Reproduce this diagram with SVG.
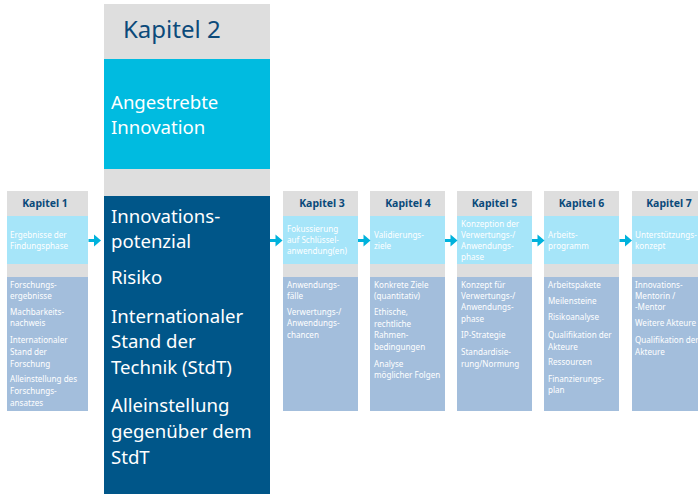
<svg xmlns="http://www.w3.org/2000/svg" width="698" height="494" viewBox="0 0 698 494">
<style>
text{font-family:"Noto Sans","Open Sans","DejaVu Sans",sans-serif}
.hd{fill:#dedede}
.cy{fill:#a6e5f9}
.bl{fill:#a3bedc}
.kh{font-size:10.5px;font-weight:700;fill:#0b4a7a;text-anchor:middle}
.t{font-size:8.1px;fill:#ffffff}
.big{font-size:18.6px;fill:#ffffff}
.arr{fill:#00b2dc}
</style>
<defs>
<g id="arrow">
<rect x="0" y="-1.5" width="6" height="3"/>
<polygon points="5.5,-6 12.5,0 5.5,6"/>
</g>
</defs>
<rect width="698" height="494" fill="#ffffff"/>

<g id="kapitel1">
<rect class="hd" x="7" y="191" width="81" height="25"/>
<rect class="cy" x="7" y="216" width="81" height="48"/>
<rect class="hd" x="7" y="264" width="81" height="13"/>
<rect class="bl" x="7" y="277" width="81" height="134"/>
<text class="kh" x="45" y="207">Kapitel 1</text>
<text class="t" x="10" y="238">Ergebnisse der</text>
<text class="t" x="10" y="249">Findungsphase</text>
<text class="t" x="10" y="288">Forschungs-</text>
<text class="t" x="10" y="299">ergebnisse</text>
<text class="t" x="10" y="315">Machbarkeits-</text>
<text class="t" x="10" y="326">nachweis</text>
<text class="t" x="10" y="343">Internationaler</text>
<text class="t" x="10" y="355">Stand der</text>
<text class="t" x="10" y="367">Forschung</text>
<text class="t" x="10" y="382">Alleinstellung des</text>
<text class="t" x="10" y="394">Forschungs-</text>
<text class="t" x="10" y="406">ansatzes</text>
</g>

<g id="kapitel2">
<rect class="hd" x="104" y="4" width="166" height="55"/>
<rect fill="#00bbe0" x="104" y="59" width="166" height="110"/>
<rect class="hd" x="104" y="169" width="166" height="27"/>
<rect fill="#005689" x="104" y="196" width="166" height="298"/>
<text x="123" y="38" font-size="24" fill="#0b4a7a">Kapitel 2</text>
<text class="big" x="111" y="109">Angestrebte</text>
<text class="big" x="111" y="134">Innovation</text>
<text class="big" x="111" y="223">Innovations-</text>
<text class="big" x="111" y="248">potenzial</text>
<text class="big" x="111" y="284">Risiko</text>
<text class="big" x="111" y="323">Internationaler</text>
<text class="big" x="111" y="348">Stand der</text>
<text class="big" x="111" y="374">Technik (StdT)</text>
<text class="big" x="111" y="412">Alleinstellung</text>
<text class="big" x="111" y="438">gegenüber dem</text>
<text class="big" x="111" y="464">StdT</text>
</g>

<g id="kapitel3">
<rect class="hd" x="283" y="191" width="75" height="25"/>
<rect class="cy" x="283" y="216" width="75" height="48"/>
<rect class="hd" x="283" y="264" width="75" height="13"/>
<rect class="bl" x="283" y="277" width="75" height="134"/>
<text class="kh" x="322" y="207">Kapitel 3</text>
<text class="t" x="287" y="232">Fokussierung</text>
<text class="t" x="287" y="243">auf Schlüssel-</text>
<text class="t" x="287" y="254">anwendung(en)</text>
<text class="t" x="287" y="288">Anwendungs-</text>
<text class="t" x="287" y="299">fälle</text>
<text class="t" x="287" y="315">Verwertungs-/</text>
<text class="t" x="287" y="326">Anwendungs-</text>
<text class="t" x="287" y="338">chancen</text>
</g>

<g id="kapitel4">
<rect class="hd" x="370" y="191" width="75" height="25"/>
<rect class="cy" x="370" y="216" width="75" height="48"/>
<rect class="hd" x="370" y="264" width="75" height="13"/>
<rect class="bl" x="370" y="277" width="75" height="134"/>
<text class="kh" x="408" y="207">Kapitel 4</text>
<text class="t" x="374" y="238">Validierungs-</text>
<text class="t" x="374" y="249">ziele</text>
<text class="t" x="374" y="288">Konkrete Ziele</text>
<text class="t" x="374" y="299">(quantitativ)</text>
<text class="t" x="374" y="315">Ethische,</text>
<text class="t" x="374" y="327">rechtliche</text>
<text class="t" x="374" y="338">Rahmen-</text>
<text class="t" x="374" y="350">bedingungen</text>
<text class="t" x="374" y="367">Analyse</text>
<text class="t" x="374" y="378">möglicher Folgen</text>
</g>

<g id="kapitel5">
<rect class="hd" x="457" y="191" width="75" height="25"/>
<rect class="cy" x="457" y="216" width="75" height="48"/>
<rect class="hd" x="457" y="264" width="75" height="13"/>
<rect class="bl" x="457" y="277" width="75" height="134"/>
<text class="kh" x="494.5" y="207">Kapitel 5</text>
<text class="t" x="461" y="227">Konzeption der</text>
<text class="t" x="461" y="238">Verwertungs-/</text>
<text class="t" x="461" y="249">Anwendungs-</text>
<text class="t" x="461" y="260">phase</text>
<text class="t" x="461" y="288">Konzept für</text>
<text class="t" x="461" y="299">Verwertungs-/</text>
<text class="t" x="461" y="310">Anwendungs-</text>
<text class="t" x="461" y="322">phase</text>
<text class="t" x="461" y="338">IP-Strategie</text>
<text class="t" x="461" y="355">Standardisie-</text>
<text class="t" x="461" y="367">rung/Normung</text>
</g>

<g id="kapitel6">
<rect class="hd" x="544" y="191" width="75" height="25"/>
<rect class="cy" x="544" y="216" width="75" height="48"/>
<rect class="hd" x="544" y="264" width="75" height="13"/>
<rect class="bl" x="544" y="277" width="75" height="134"/>
<text class="kh" x="581.5" y="207">Kapitel 6</text>
<text class="t" x="548" y="238">Arbeits-</text>
<text class="t" x="548" y="249">programm</text>
<text class="t" x="548" y="288">Arbeitspakete</text>
<text class="t" x="548" y="304">Meilensteine</text>
<text class="t" x="548" y="320">Risikoanalyse</text>
<text class="t" x="548" y="338">Qualifikation der</text>
<text class="t" x="548" y="350">Akteure</text>
<text class="t" x="548" y="365">Ressourcen</text>
<text class="t" x="548" y="382">Finanzierungs-</text>
<text class="t" x="548" y="393">plan</text>
</g>

<g id="kapitel7">
<rect class="hd" x="632" y="191" width="75" height="25"/>
<rect class="cy" x="632" y="216" width="75" height="48"/>
<rect class="hd" x="632" y="264" width="75" height="13"/>
<rect class="bl" x="632" y="277" width="75" height="134"/>
<text class="kh" x="669" y="207">Kapitel 7</text>
<text class="t" x="635" y="238">Unterstützungs-</text>
<text class="t" x="635" y="249">konzept</text>
<text class="t" x="635" y="288">Innovations-</text>
<text class="t" x="635" y="299">Mentorin /</text>
<text class="t" x="635" y="310">-Mentor</text>
<text class="t" x="635" y="326">Weitere Akteure</text>
<text class="t" x="635" y="343">Qualifikation der</text>
<text class="t" x="635" y="355">Akteure</text>
</g>

<g id="connectors" class="arr">
<use href="#arrow" x="88.5" y="240.5"/>
<use href="#arrow" x="270" y="240.5"/>
<use href="#arrow" x="358" y="240.5"/>
<use href="#arrow" x="445" y="240.5"/>
<use href="#arrow" x="532" y="240.5"/>
<use href="#arrow" x="619.5" y="240.5"/>
</g>
</svg>
